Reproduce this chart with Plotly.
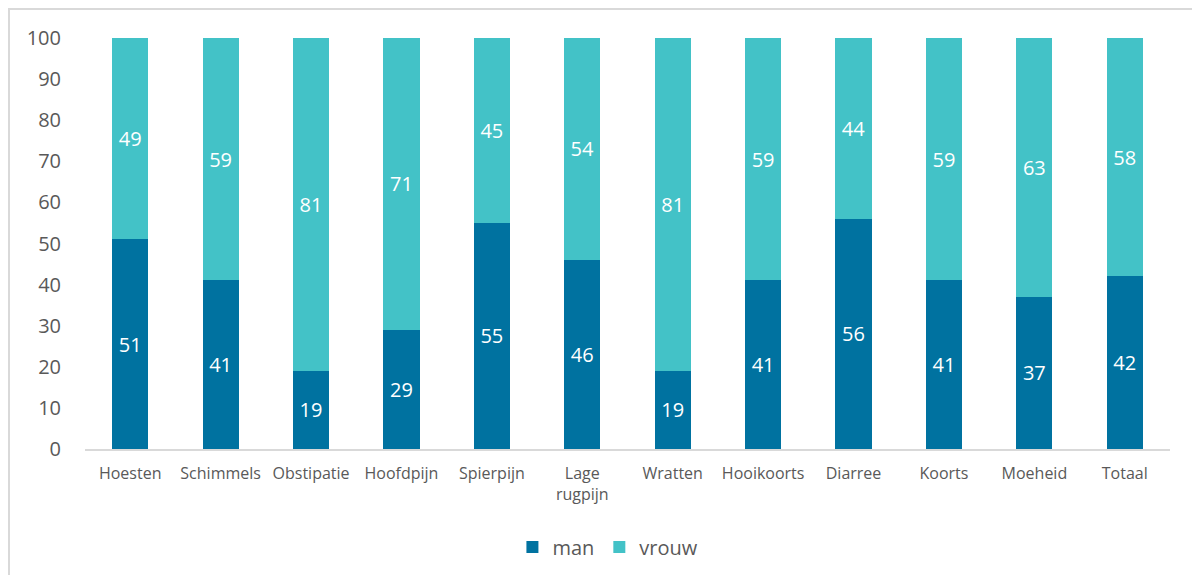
import plotly.graph_objects as go

categories = ["Hoesten", "Schimmels", "Obstipatie", "Hoofdpijn", "Spierpijn", "Lage<br>rugpijn",
              "Wratten", "Hooikoorts", "Diarree", "Koorts", "Moeheid", "Totaal"]
man = [51, 41, 19, 29, 55, 46, 19, 41, 56, 41, 37, 42]
vrouw = [49, 59, 81, 71, 45, 54, 81, 59, 44, 59, 63, 58]
y_ticks = list(range(0, 101, 10))

FONT = "Open Sans"
GREY = "#595959"

fig = go.Figure()
fig.add_trace(go.Bar(name="man", x=categories, y=man, marker_color="#0072a0",
                     marker_line_width=0, text=man, textposition="inside",
                     insidetextanchor="middle",
                     textfont=dict(color="white", size=20, family=FONT)))
fig.add_trace(go.Bar(name="vrouw", x=categories, y=vrouw, marker_color="#43c2c7",
                     marker_line_width=0, text=vrouw, textposition="inside",
                     insidetextanchor="middle",
                     textfont=dict(color="white", size=20, family=FONT)))

W, H = 1192, 575
L, R, T, B = 85, 22, 38, 126
pw, ph = W - L - R, H - T - B

fig.update_layout(
    width=W, height=H, barmode="stack", bargap=0.6,
    margin=dict(l=L, r=R, t=T, b=B),
    plot_bgcolor="white", paper_bgcolor="white",
    font=dict(family=FONT, color=GREY),
    uniformtext=dict(minsize=20, mode="show"),
    xaxis=dict(showgrid=False, showline=True, linecolor="#d9d9d9", linewidth=2,
               ticks="", tickfont=dict(size=16, color=GREY), ticklabelstandoff=9),
    yaxis=dict(range=[0, 100], tickvals=y_ticks, showgrid=False, showline=False,
               zeroline=False, ticks="", tickfont=dict(size=20, color=GREY),
               ticklabelstandoff=23),
    legend=dict(orientation="h", x=0.51, xanchor="center", xref="container",
                y=1 - 547 / H, yanchor="middle", yref="container",
                font=dict(size=20, color=GREY), itemwidth=30, traceorder="normal"),
    shapes=[dict(type="rect", xref="paper", yref="paper",
                 x0=(9 - L) / pw, x1=(W + 10 - L) / pw,
                 y0=-(H + 10 - T - ph) / ph, y1=(H - 9 - B) / ph,
                 line=dict(color="#d9d9d9", width=2), fillcolor="rgba(0,0,0,0)",
                 layer="below")],
)

fig.write_html("out.html")
